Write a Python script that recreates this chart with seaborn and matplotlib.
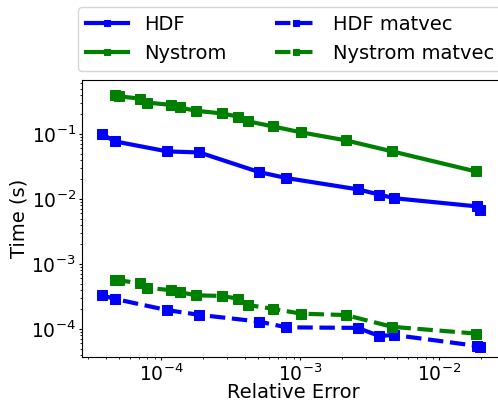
import numpy as np
import pandas as pd
import seaborn as sns
import matplotlib
matplotlib.use("Agg")
import matplotlib.pyplot as plt

hdf_err = [3.74e-5, 4.67e-5, 1.11e-4, 1.89e-4, 5.07e-4, 8.0e-4, 2.60e-3, 3.72e-3, 4.74e-3, 1.87e-2, 1.97e-2]
hdf_time = [0.100, 0.077, 0.054, 0.052, 0.026, 0.021, 0.0141, 0.0117, 0.0103, 0.0077, 0.0068]
hdf_mv_time = [3.3e-4, 2.9e-4, 1.95e-4, 1.65e-4, 1.3e-4, 1.06e-4, 1.04e-4, 7.8e-5, 8.1e-5, 5.5e-5, 5.3e-5]

nys_err = [4.67e-5, 5.01e-5, 7.06e-5, 7.89e-5, 1.19e-4, 1.36e-4, 1.78e-4, 2.76e-4, 3.6e-4, 4.21e-4, 6.37e-4, 1.02e-3, 2.13e-3, 4.61e-3, 1.85e-2]
nys_time = [0.40, 0.38, 0.35, 0.305, 0.28, 0.256, 0.228, 0.207, 0.185, 0.157, 0.131, 0.106, 0.08, 0.054, 0.0265]
nys_mv_time = [5.7e-4, 5.6e-4, 5.05e-4, 4.3e-4, 3.95e-4, 3.7e-4, 3.3e-4, 3.22e-4, 2.92e-4, 2.34e-4, 2.05e-4, 1.72e-4, 1.64e-4, 1.08e-4, 8.5e-5]

plt.rcParams['font.family'] = ['DejaVu Sans']

fig = plt.figure(figsize=(4.98, 4.01), dpi=100)
ax = fig.add_axes([82/498, 44/401, (505-82)/498, 277/401])

lw = 3
ms = 7
sns.lineplot(x=hdf_err, y=hdf_time, ax=ax, color='blue', lw=lw, marker='s', ms=ms, mec='blue', label='HDF', sort=False)
sns.lineplot(x=nys_err, y=nys_time, ax=ax, color='green', lw=lw, marker='s', ms=ms, mec='green', label='Nystrom', sort=False)
sns.lineplot(x=hdf_err, y=hdf_mv_time, ax=ax, color='blue', lw=lw, ls='--', marker='s', ms=ms, mec='blue', label='HDF matvec', sort=False)
sns.lineplot(x=nys_err, y=nys_mv_time, ax=ax, color='green', lw=lw, ls='--', marker='s', ms=ms, mec='green', label='Nystrom matvec', sort=False)

ax.set_xscale('log')
ax.set_yscale('log')
ax.set_xlim(10**-4.568, 10**-1.525)
ax.set_ylim(10**-4.431, 10**-0.169)
ax.set_xlabel('Relative Error', fontsize=14, labelpad=-1)
ax.set_ylabel('Time (s)', fontsize=14, labelpad=2)
ax.tick_params(axis='both', which='major', labelsize=13.5, length=2.5, width=0.8, pad=2)
ax.tick_params(axis='both', which='minor', length=1.5, width=0.6)

ax.legend(loc='lower center', bbox_to_anchor=(208 / 423, 1.02), ncol=2, fontsize=14,
          markerscale=0.6, handlelength=2.2, columnspacing=2.5, borderaxespad=0.2)

fig.savefig('out.png', dpi=100)
